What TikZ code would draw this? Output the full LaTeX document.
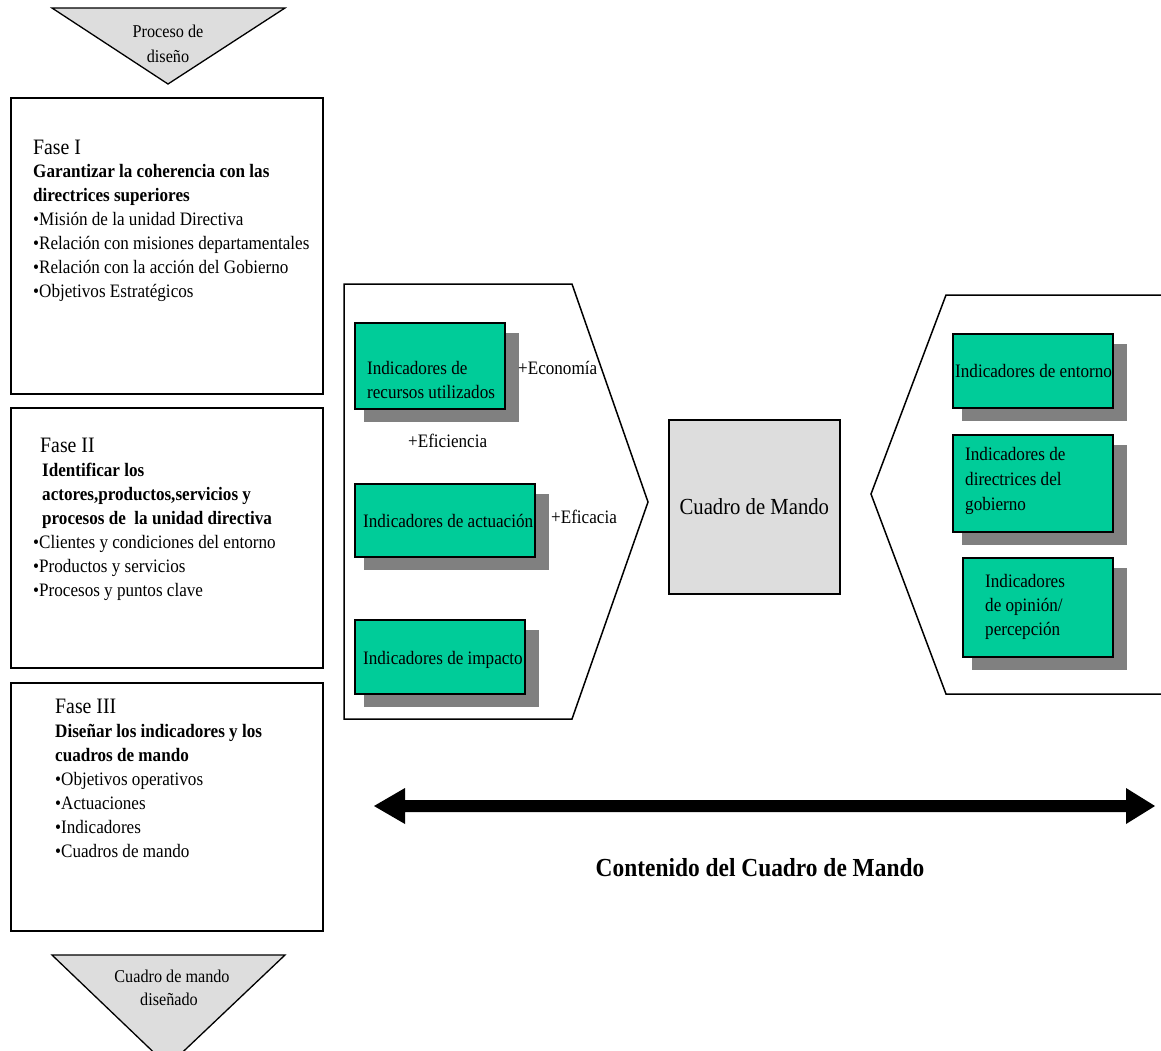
\documentclass[tikz,border=0pt]{standalone}
\usepackage{fontspec}
\setmainfont{Liberation Serif}[FakeStretch=0.9]
\usetikzlibrary{calc}

\definecolor{indgreen}{HTML}{00CC99}
\definecolor{shadowgray}{HTML}{808080}
\definecolor{panelgray}{HTML}{DDDDDD}

\tikzset{
  outline/.style={draw=black, line width=1.7},
  phasebox/.style={outline, fill=white, anchor=north west, inner sep=0},
  greenbox/.style={outline, fill=indgreen, anchor=north west, inner sep=0},
  txt/.style={anchor=base west, inner sep=0, font=\fontsize{19}{23}\selectfont},
  txtb/.style={txt, font=\fontsize{19}{23}\selectfont\bfseries},
  phasetitle/.style={txt, font=\fontsize{22}{26}\selectfont},
  tritxt/.style={anchor=base, inner sep=0, font=\fontsize{18}{22}\selectfont},
}

% green indicator box with its offset grey shadow: name, x, y, width, height
\newcommand\indicatorbox[5]{%
  \fill[shadowgray] ($(#2,#3)+(10,11)$) rectangle ($(#2,#3)+(#4+15,#5+14)$);
  \node[greenbox, minimum width=#4, minimum height=#5] (#1) at (#2,#3) {};}

\begin{document}
\begin{tikzpicture}[x=1pt, y=-1pt]
\clip (0,0) rectangle (1161,1050);
\fill[white] (0,0) rectangle (1161,1050);

% ---- process column ----
\draw[outline, line width=1.3, fill=panelgray] (52,8) -- (285,8) -- (168,84) -- cycle;
\node[tritxt] (tri1a) at (168,37) {Proceso de};
\node[tritxt] (tri1b) at (168,62) {diseño};

\node[phasebox, minimum width=312, minimum height=296] (fase1) at (10,97) {};
\node[phasetitle] (f1h) at (33,154) {Fase I};
\node[txtb] (f1b1) at (33,177) {Garantizar la coherencia con las};
\node[txtb] (f1b2) at (33,201) {directrices superiores};
\node[txt] (f1i1) at (33,225) {•Misión de la unidad Directiva};
\node[txt] (f1i2) at (33,249) {•Relación con misiones departamentales};
\node[txt] (f1i3) at (33,273) {•Relación con la acción del Gobierno};
\node[txt] (f1i4) at (33,297) {•Objetivos Estratégicos};

\node[phasebox, minimum width=312, minimum height=260] (fase2) at (10,407) {};
\node[phasetitle] (f2h) at (40,452) {Fase II};
\node[txtb] (f2b1) at (42,476) {Identificar los};
\node[txtb] (f2b2) at (42,500) {actores,productos,servicios y};
\node[txtb] (f2b3) at (42,524) {procesos de~ la unidad directiva};
\node[txt] (f2i1) at (33,548) {•Clientes y condiciones del entorno};
\node[txt] (f2i2) at (33,572) {•Productos y servicios};
\node[txt] (f2i3) at (33,596) {•Procesos y puntos clave};

\node[phasebox, minimum width=312, minimum height=248] (fase3) at (10,682) {};
\node[phasetitle] (f3h) at (55,713) {Fase III};
\node[txtb] (f3b1) at (55,737) {Diseñar los indicadores y los};
\node[txtb] (f3b2) at (55,761) {cuadros de mando};
\node[txt] (f3i1) at (55,785) {•Objetivos operativos};
\node[txt] (f3i2) at (55,809) {•Actuaciones};
\node[txt] (f3i3) at (55,833) {•Indicadores};
\node[txt] (f3i4) at (55,857) {•Cuadros de mando};

\draw[outline, line width=1.3, fill=panelgray] (52,955) -- (285,955) -- (168,1066) -- cycle;
\node[tritxt] (tri2a) at (172,982) {Cuadro de mando};
\node[tritxt] (tri2b) at (169,1005) {diseñado};

% ---- internal indicators ----
\draw[outline, line width=1.5] (344,284) -- (572,284) -- (648,502) -- (572,719) -- (344,719) -- cycle;
\indicatorbox{recursos}{354}{322}{150}{86}
\node[txt] (recursos1) at (367,374) {Indicadores de};
\node[txt] (recursos2) at (367,398) {recursos utilizados};
\node[txt] (economia) at (518,374) {+Economía};
\node[txt] (eficiencia) at (408,447) {+Eficiencia};
\indicatorbox{actuacion}{354}{483}{180}{73}
\node[txt] (actuacion1) at (363,527) {Indicadores de actuación};
\node[txt] (eficacia) at (551,523) {+Eficacia};
\indicatorbox{impacto}{354}{619}{170}{74}
\node[txt] (impacto1) at (363,664) {Indicadores de impacto};

% ---- dashboard ----
\node[outline, fill=panelgray, anchor=north west, minimum width=171, minimum height=174,
      inner sep=0, font=\fontsize{23}{27}\selectfont] (cuadro) at (668,419) {Cuadro de Mando};

% ---- external indicators ----
\draw[outline, line width=1.5] (1175,295) -- (946,295) -- (871,494) -- (946,694) -- (1175,694);
\indicatorbox{entorno}{952}{333}{160}{74}
\node[txt] (entorno1) at (955,377) {Indicadores de entorno};
\indicatorbox{directrices}{952}{434}{160}{97}
\node[txt] (directrices1) at (965,460) {Indicadores de};
\node[txt] (directrices2) at (965,485) {directrices del};
\node[txt] (directrices3) at (965,510) {gobierno};
\indicatorbox{opinion}{962}{557}{150}{99}
\node[txt] (opinion1) at (985,587) {Indicadores};
\node[txt] (opinion2) at (985,611) {de opinión/};
\node[txt] (opinion3) at (985,635) {percepción};

% ---- scope arrow and caption ----
\coordinate (arrL) at (374,806);
\coordinate (arrR) at (1155,806);
\fill[black] (arrL) -- ($(arrL)+(31,-18)$) -- ($(arrL)+(31,-6)$) -- ($(arrR)+(-29,-6)$)
  -- ($(arrR)+(-29,-18)$) -- (arrR) -- ($(arrR)+(-29,18)$) -- ($(arrR)+(-29,6)$)
  -- ($(arrL)+(31,6)$) -- ($(arrL)+(31,18)$) -- cycle;
\node[anchor=base, inner sep=0, font=\fontsize{26}{30}\selectfont\bfseries] (contenido)
  at (760,876) {Contenido del Cuadro de Mando};
\end{tikzpicture}
\end{document}
